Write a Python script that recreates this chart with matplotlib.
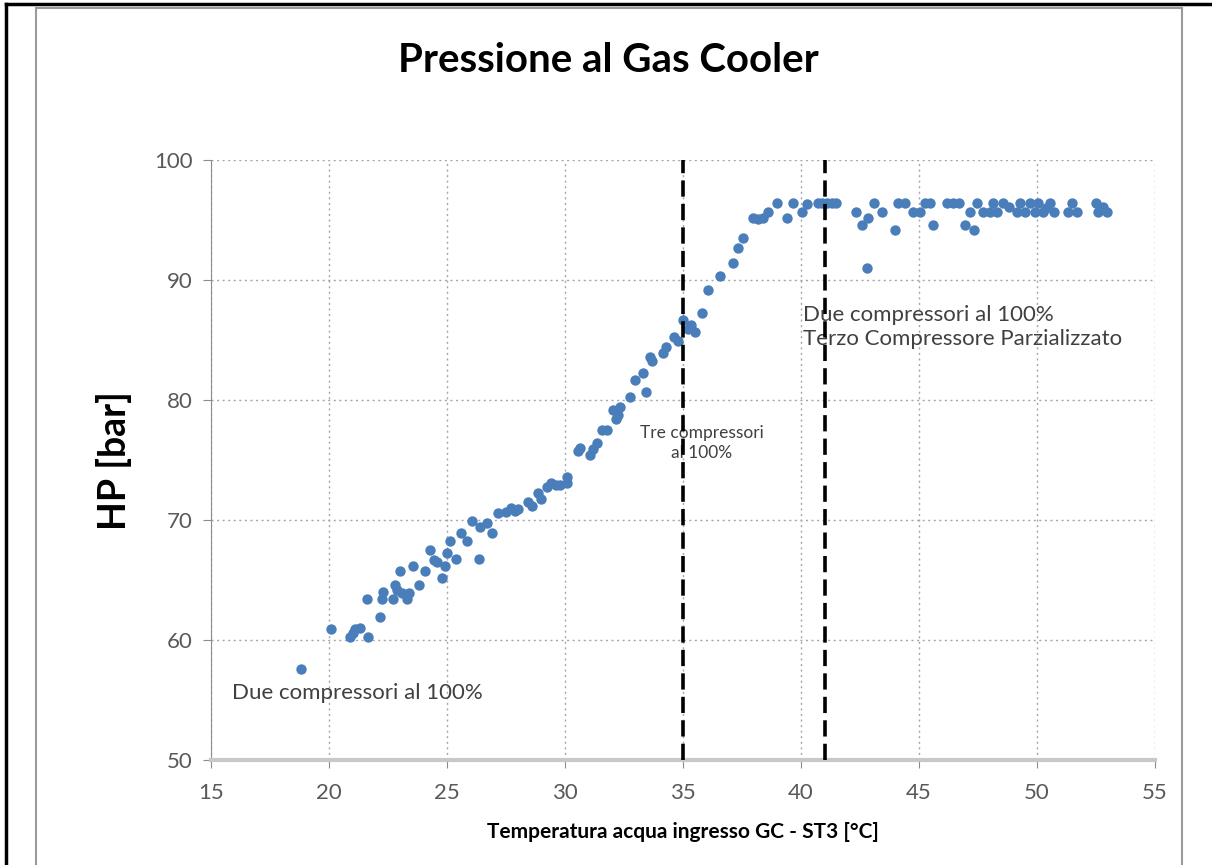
import matplotlib
matplotlib.use("Agg")
import matplotlib.pyplot as plt
from matplotlib.lines import Line2D
from matplotlib.patches import Rectangle

# temperatura acqua ingresso GC [°C] vs pressione HP [bar]
temp = [18.8, 20.1, 20.9, 21.1, 21.3, 21.65, 21.6, 22.15, 22.25, 22.3, 22.7, 22.8,
        23.0, 23.1, 23.3, 23.4, 23.55, 23.8, 24.05, 24.3, 24.45, 24.8, 24.9, 25.0,
        25.15, 25.4, 25.6, 25.85, 26.05, 26.35, 26.4, 26.9, 27.15, 27.5, 27.7, 28.0,
        28.45, 28.6, 28.85, 29.25, 29.4, 29.6, 30.1, 30.1, 30.55, 30.65, 31.05, 31.35,
        31.55, 31.8, 32.05, 32.25, 32.35, 32.75, 32.95, 33.3, 33.45, 33.7, 34.15, 34.6,
        35.0, 35.35, 35.5, 35.8, 36.05, 36.55, 37.1, 37.35, 37.55, 37.95, 38.4, 38.6,
        39.0, 39.4, 39.65, 40.05, 40.25, 40.7, 41.1, 41.5, 42.35, 42.6, 42.8, 42.85,
        43.1, 43.45, 44.0, 44.1, 44.4, 44.75, 45.05, 45.25, 45.45, 45.6, 46.2, 46.45,
        46.7, 46.95, 47.15, 47.35, 47.45, 47.7, 48.0, 48.15, 48.3, 48.55, 49.15, 49.3,
        49.5, 49.7, 49.9, 50.05, 50.25, 50.55, 50.7, 51.3, 51.5, 51.7, 52.5, 52.6, 52.95,
        # punti sovrapposti nelle zone dense
        21.0, 22.9, 24.6, 26.7, 27.9, 29.0, 29.8, 31.2, 32.15, 33.6, 34.3, 34.8,
        35.2, 38.2, 40.9, 41.3, 48.8, 50.4, 52.8]
hp = [57.6, 60.9, 60.3, 60.9, 61.0, 60.3, 63.4, 61.9, 63.4, 64.0, 63.4, 64.6,
      65.8, 63.9, 63.4, 63.9, 66.2, 64.6, 65.8, 67.5, 66.7, 65.2, 66.2, 67.3,
      68.3, 66.8, 68.9, 68.3, 69.9, 66.8, 69.4, 68.9, 70.6, 70.7, 71.0, 70.9,
      71.5, 71.2, 72.3, 72.8, 73.1, 72.9, 73.6, 73.1, 75.8, 76.0, 75.4, 76.4,
      77.5, 77.5, 79.2, 78.8, 79.4, 80.3, 81.7, 82.3, 80.7, 83.3, 83.9, 85.3,
      86.7, 86.3, 85.7, 87.3, 89.2, 90.3, 91.4, 92.7, 93.5, 95.2, 95.2, 95.7,
      96.4, 95.2, 96.4, 95.7, 96.3, 96.4, 96.4, 96.4, 95.7, 94.6, 91.0, 95.2,
      96.4, 95.7, 94.2, 96.4, 96.4, 95.7, 95.7, 96.4, 96.4, 94.6, 96.4, 96.4,
      96.4, 94.6, 95.7, 94.2, 96.4, 95.7, 95.7, 96.4, 95.7, 96.4, 95.7, 96.4,
      95.7, 96.4, 95.7, 96.4, 95.7, 96.4, 95.7, 95.7, 96.4, 95.7, 96.4, 95.7, 95.7,
      60.6, 64.2, 66.5, 69.8, 70.8, 71.8, 72.9, 75.9, 78.4, 83.6, 84.4, 84.9,
      85.9, 95.1, 96.4, 96.4, 96.1, 96.0, 96.1]

limits = [35, 41]  # cambi di regime compressori
x_ticks = [15, 20, 25, 30, 35, 40, 45, 50, 55]
y_ticks = [50, 60, 70, 80, 90, 100]

plt.rcParams['font.family'] = ['Lato', 'DejaVu Sans']

fig = plt.figure(figsize=(12.12, 8.65), dpi=100)
ax = fig.add_axes([0.174, 0.121, 0.779, 0.694])

# cornice esterna
fig.add_artist(Line2D([6 / 1212, 6 / 1212], [0, 1 - 4 / 865], color='black', lw=2.5))
fig.add_artist(Line2D([6 / 1212, 1], [1 - 4 / 865, 1 - 4 / 865], color='black', lw=2.5))
fig.add_artist(Rectangle((36 / 1212, -0.01), (1182 - 36) / 1212, 1.01 - 8 / 865,
                         fill=False, edgecolor='#9a9a9a', lw=1.5))

ax.scatter(temp, hp, s=56, color='#4A7EBB', zorder=3, linewidths=0)
for xl in limits:
    ax.axvline(xl, color='black', lw=2.6, dashes=(4.5, 2), zorder=4)

ax.set_xlim(15, 55)
ax.set_ylim(50, 100)
ax.set_xticks(x_ticks)
ax.set_yticks(y_ticks)
ax.grid(True, linestyle=(0, (1.5, 2.5)), color='#a6a6a6', lw=1.0)
ax.set_axisbelow(True)
for s in ['top', 'right']:
    ax.spines[s].set_visible(False)
ax.spines['left'].set_color('#8c8c8c')
ax.spines['bottom'].set_color('#c8c8c8')
ax.spines['bottom'].set_linewidth(3)
ax.tick_params(axis='both', labelsize=16, labelcolor='#595959', color='#8c8c8c', length=6)
ax.tick_params(axis='x', pad=10)
ax.tick_params(axis='y', pad=7)

ax.text(15.9, 55.6, 'Due compressori al 100%', fontsize=16, color='#404040', va='center')
ax.text(35.8, 76.4, 'Tre compressori\nal 100%', fontsize=12.5, color='#404040',
        ha='center', va='center', linespacing=1.3)
ax.text(40.1, 86.1, 'Due compressori al 100%\nTerzo Compressore Parzializzato', fontsize=16,
        color='#404040', va='center', linespacing=1.3)

fig.text(0.502, 0.93, 'Pressione al Gas Cooler', fontsize=29, fontweight='bold',
         ha='center', va='center')
ax.set_ylabel('HP [bar]', fontsize=27, fontweight='bold', labelpad=16)
ax.set_xlabel('Temperatura acqua ingresso GC - ST3 [°C]', fontsize=15, fontweight='bold',
              labelpad=14)

fig.savefig('out.png', dpi=100)
